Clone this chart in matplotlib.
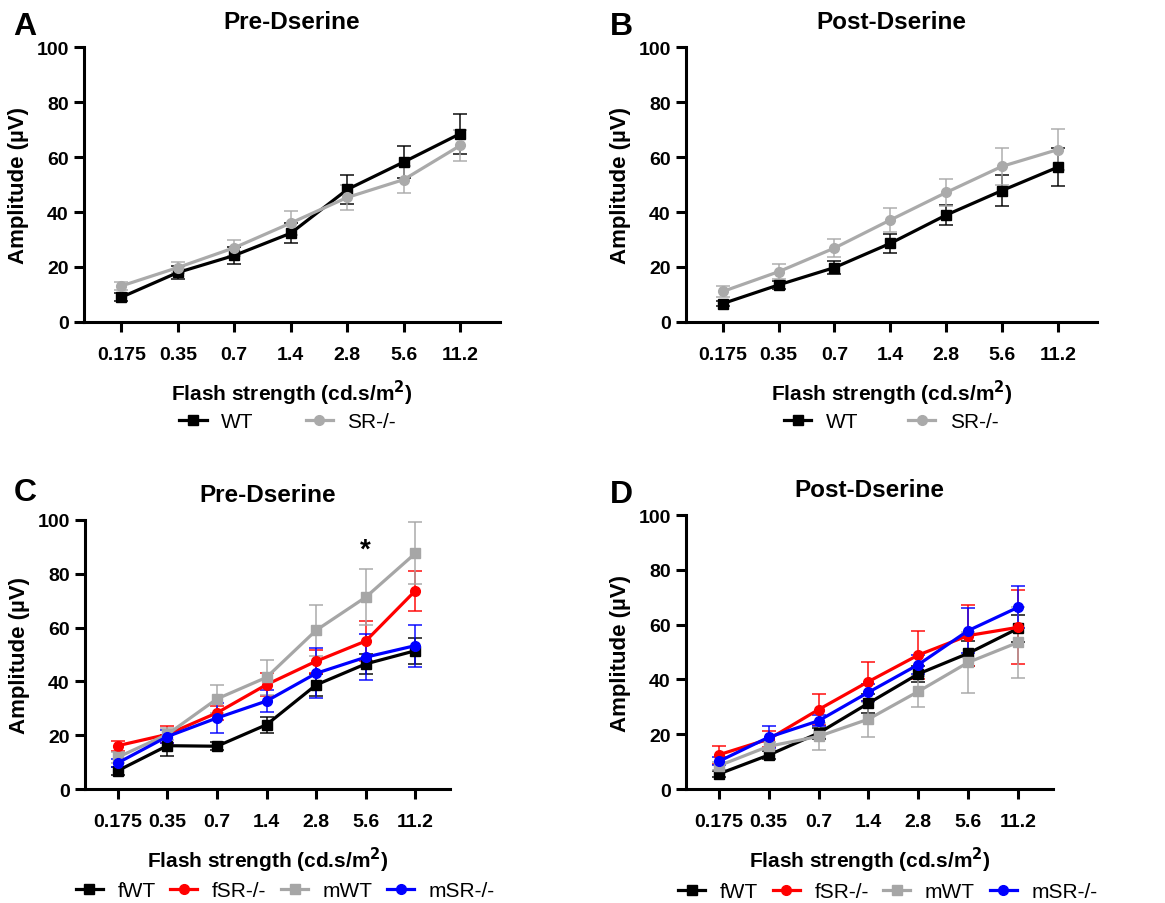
import matplotlib
matplotlib.use("Agg")
import matplotlib.pyplot as plt

plt.rcParams["font.family"] = ["Liberation Sans", "DejaVu Sans"]

FLASH = ["0.175", "0.35", "0.7", "1.4", "2.8", "5.6", "11.2"]

# Panel A: pre-Dserine, WT vs SR-/-
A_WT = [9.0, 18.0, 24.2, 32.3, 48.2, 58.2, 68.5]
A_WT_ERR = [1.5, 2.3, 3.2, 3.7, 5.3, 5.8, 7.3]
A_SR = [13.1, 19.8, 27.0, 36.0, 45.3, 51.8, 64.2]
A_SR_ERR = [1.6, 2.0, 3.0, 4.5, 4.5, 4.9, 5.7]

# Panel B: post-Dserine
B_WT = [6.7, 13.5, 19.8, 28.6, 38.9, 47.8, 56.3]
B_WT_ERR = [1.0, 1.5, 2.5, 3.5, 3.6, 5.5, 6.8]
B_SR = [11.1, 18.3, 26.9, 37.1, 47.1, 56.6, 62.7]
B_SR_ERR = [2.0, 2.7, 3.3, 4.2, 4.9, 6.7, 7.5]

# Panel C: pre-Dserine by sex
C_FWT = [6.8, 16.1, 15.9, 23.9, 38.7, 46.5, 51.4]
C_FWT_ERR = [1.5, 4.0, 1.5, 3.0, 4.0, 3.7, 4.8]
C_FSR = [16.1, 20.3, 28.3, 38.8, 47.5, 55.0, 73.7]
C_FSR_ERR = [1.8, 3.2, 2.7, 4.2, 4.3, 7.3, 7.4]
C_MWT = [11.8, 20.3, 33.5, 41.5, 59.0, 71.3, 87.6]
C_MWT_ERR = [2.0, 2.2, 5.3, 6.6, 9.5, 10.5, 11.5]
C_MSR = [9.7, 19.5, 26.4, 32.7, 43.0, 49.0, 53.3]
C_MSR_ERR = [1.5, 2.5, 5.7, 4.0, 9.3, 8.6, 7.8]

# Panel D: post-Dserine by sex
D_FWT = [5.5, 12.4, 20.4, 31.3, 42.0, 49.5, 58.6]
D_FWT_ERR = [1.0, 1.5, 2.0, 3.4, 3.0, 4.6, 5.0]
D_FSR = [12.5, 18.2, 29.0, 39.2, 48.9, 56.0, 59.0]
D_FSR_ERR = [3.3, 3.0, 5.5, 7.0, 8.6, 11.0, 13.5]
D_MWT = [8.5, 15.6, 19.2, 25.5, 35.6, 46.2, 53.5]
D_MWT_ERR = [1.5, 1.5, 4.9, 6.4, 5.5, 11.2, 13.1]
D_MSR = [10.1, 18.9, 24.9, 35.3, 45.4, 57.8, 66.3]
D_MSR_ERR = [1.5, 4.0, 2.0, 3.0, 3.5, 8.3, 7.7]

BLACK = "#000000"
GREY_AB = "#aaaaaa"
GREY_CD = "#a6a6a6"
RED = "#ff0000"
BLUE = "#0000ff"

XLABEL = "Flash strength (cd.s/m$^\\mathbf{2}$)"
YLABEL = "Amplitude (\u00b5V)"


def draw(ax, series, title, legend_anchor, colspace):
    x = list(range(len(FLASH)))
    handles = []
    for vals, err, color, marker, label in series:
        ax.errorbar(x, vals, yerr=err, fmt="none", ecolor=color, elinewidth=1.3,
                    capsize=5, capthick=1.3, alpha=0.8, zorder=2)
        h, = ax.plot(x, vals, color=color, marker=marker, ms=7, lw=2.3,
                     label=label, zorder=3)
        handles.append(h)
    ax.set_xlim(-0.66, 6.7)
    ax.set_ylim(0, 100)
    ax.set_yticks([0, 20, 40, 60, 80, 100])
    ax.set_xticks(x)
    ax.set_xticklabels(FLASH)
    for s in ["top", "right"]:
        ax.spines[s].set_visible(False)
    for s in ["left", "bottom"]:
        ax.spines[s].set_linewidth(2.2)
    ax.tick_params(width=2.2, length=7, labelsize=14, pad=4)
    ax.tick_params(axis="x", pad=10)
    for lab in ax.get_xticklabels() + ax.get_yticklabels():
        lab.set_fontweight("bold")
    ax.set_xlabel(XLABEL, fontsize=15, fontweight="bold", labelpad=11)
    ax.set_ylabel(YLABEL, fontsize=16, fontweight="bold", labelpad=5)
    ax.set_title(title, fontsize=17.5, fontweight="bold", pad=14)
    ax.figure.legend(handles=handles, loc="center", bbox_to_anchor=legend_anchor,
                     ncol=len(handles), frameon=False, fontsize=15,
                     handlelength=1.3, handletextpad=0.7, columnspacing=colspace)
    return ax


fig = plt.figure(figsize=(11.65, 9.04), dpi=100)

axA = fig.add_axes([0.0721, 0.6427, 0.357, 0.3042])
axB = fig.add_axes([0.5888, 0.6427, 0.3528, 0.3042])
axC = fig.add_axes([0.073, 0.1261, 0.3133, 0.2976])
axD = fig.add_axes([0.5888, 0.1261, 0.315, 0.3031])

draw(axA, [(A_WT, A_WT_ERR, BLACK, "s", "WT"),
           (A_SR, A_SR_ERR, GREY_AB, "o", "SR-/-")],
     "Pre-Dserine", (0.247, 1 - 423 / 904), 2.5)
draw(axB, [(B_WT, B_WT_ERR, BLACK, "s", "WT"),
           (B_SR, B_SR_ERR, GREY_AB, "o", "SR-/-")],
     "Post-Dserine", (0.765, 1 - 423 / 904), 2.4)
draw(axC, [(C_FWT, C_FWT_ERR, BLACK, "s", "fWT"),
           (C_FSR, C_FSR_ERR, RED, "o", "fSR-/-"),
           (C_MWT, C_MWT_ERR, GREY_CD, "s", "mWT"),
           (C_MSR, C_MSR_ERR, BLUE, "o", "mSR-/-")],
     "Pre-Dserine", (0.245, 1 - 892 / 904), 0.7)
draw(axD, [(D_FWT, D_FWT_ERR, BLACK, "s", "fWT"),
           (D_FSR, D_FSR_ERR, RED, "o", "fSR-/-"),
           (D_MWT, D_MWT_ERR, GREY_CD, "s", "mWT"),
           (D_MSR, D_MSR_ERR, BLUE, "o", "mSR-/-")],
     "Post-Dserine", (0.762, 1 - 893 / 904), 0.7)

# significance marker
axC.text(5, 89, "*", ha="center", va="center", fontsize=20, fontweight="bold")

# panel letters
for letter, (px, py) in zip("ABCD", [(25, 27), (621, 27), (25, 493), (621, 495)]):
    fig.text(px / 1165, 1 - py / 904, letter, ha="center", va="center",
             fontsize=23, fontweight="bold")

fig.savefig("out.png", dpi=100)
